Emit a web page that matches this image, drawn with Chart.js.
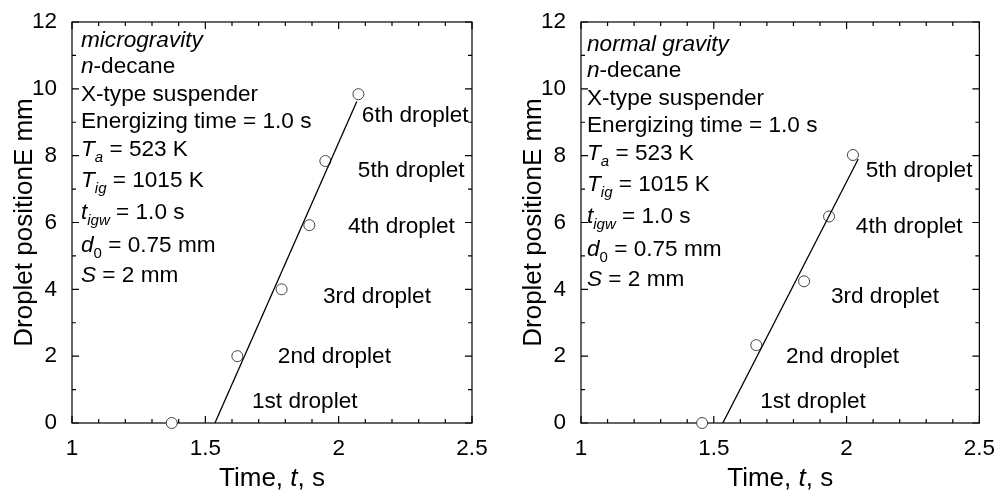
<!DOCTYPE html>
<html lang="en">
<head>
<meta charset="UTF-8">
<title>Droplet position vs time</title>
<style>
  body { margin: 0; background: #fff; }
  #wrap { display: flex; width: 999px; height: 492px; }
  .panel { position: relative; height: 492px; }
</style>
</head>
<body>
<div id="wrap">
  <div class="panel" style="width:500px"><canvas id="mg" width="500" height="492"></canvas></div>
  <div class="panel" style="width:499px"><canvas id="ng" width="499" height="492"></canvas></div>
</div>

<script src="https://cdn.jsdelivr.net/npm/chart.js@4.4.0/dist/chart.umd.min.js"></script>
<script>
  // microgravity: measured droplet positions and the fitted line
  const mgTime = [1.374, 1.62, 1.786, 1.89, 1.95, 2.074];
  const mgPos = [0, 2.0, 4.0, 5.92, 7.84, 9.84];
  const mgFitTime = [1.536, 2.068];
  const mgFitPos = [0, 9.62];

  // normal gravity
  const ngTime = [1.456, 1.66, 1.84, 1.934, 2.024];
  const ngPos = [0, 2.33, 4.24, 6.18, 8.02];
  const ngFitTime = [1.534, 2.044];
  const ngFitPos = [0, 7.9];

  // droplet labels (left edge / baseline, in data units)
  const dropletNames = ['1st droplet', '2nd droplet', '3rd droplet', '4th droplet', '5th droplet', '6th droplet'];
  const labelTime = [1.675, 1.772, 1.941, 2.035, 2.072, 2.087];
  const labelPos = [0.44, 1.79, 3.6, 5.68, 7.37, 9.02];

  const xMin = 1, xMax = 2.5, xStep = 0.5, xMinor = 0.1;
  const yMin = 0, yMax = 12, yStep = 2, yMinor = 1;

  const FONT = '"Liberation Sans", Arial, sans-serif';
  const TXT = 22.6, SUB = 15;

  const commonLines = [
    [{t: 'n', it: true}, {t: '-decane'}],
    [{t: 'X-type suspender'}],
    [{t: 'Energizing time = 1.0 s'}],
    [{t: 'T', it: true}, {t: 'a', it: true, sub: true}, {t: ' = 523 K'}],
    [{t: 'T', it: true}, {t: 'ig', it: true, sub: true}, {t: ' = 1015 K'}],
    [{t: 't', it: true}, {t: 'igw', it: true, sub: true}, {t: ' = 1.0 s'}],
    [{t: 'd', it: true}, {t: '0', sub: true}, {t: ' = 0.75 mm'}],
    [{t: 'S', it: true}, {t: ' = 2 mm'}]
  ];
  // baseline offsets below the top of the plot
  const lineOffsets = [24.7, 50.7, 78.7, 106.3, 134, 164.7, 197, 230, 259.7];

  function segFont(s) {
    return (s.it ? 'italic ' : '') + (s.size || (s.sub ? SUB : TXT)) + 'px ' + FONT;
  }

  function richWidth(ctx, segs) {
    let w = 0;
    segs.forEach(s => {
      ctx.font = segFont(s);
      w += ctx.measureText(s.t).width;
    });
    return w;
  }

  function drawRich(ctx, segs, x, y) {
    segs.forEach(s => {
      ctx.font = segFont(s);
      ctx.fillText(s.t, x, s.sub ? y + 6 : y);
      x += ctx.measureText(s.t).width;
    });
  }

  const decor = {
    id: 'decor',
    beforeDatasetsDraw(chart) {
      const ctx = chart.ctx, a = chart.chartArea;
      const xs = chart.scales.x, ys = chart.scales.y;
      ctx.save();
      ctx.strokeStyle = '#000';
      ctx.lineWidth = 1.2;
      ctx.strokeRect(a.left, a.top, a.right - a.left, a.bottom - a.top);
      ctx.beginPath();
      for (let i = 0; i <= Math.round((xMax - xMin) / xMinor); i++) {
        const v = xMin + i * xMinor;
        const px = xs.getPixelForValue(v);
        const len = (i % 5 === 0) ? 7 : 4;
        ctx.moveTo(px, a.bottom); ctx.lineTo(px, a.bottom - len);
        ctx.moveTo(px, a.top); ctx.lineTo(px, a.top + len);
      }
      for (let i = 0; i <= Math.round((yMax - yMin) / yMinor); i++) {
        const v = yMin + i * yMinor;
        const py = ys.getPixelForValue(v);
        const len = (i % 2 === 0) ? 7 : 4;
        ctx.moveTo(a.left, py); ctx.lineTo(a.left + len, py);
        ctx.moveTo(a.right, py); ctx.lineTo(a.right - len, py);
      }
      ctx.stroke();
      ctx.restore();
    },
    afterDraw(chart, args, opts) {
      const ctx = chart.ctx, a = chart.chartArea;
      const xs = chart.scales.x, ys = chart.scales.y;
      ctx.save();
      ctx.fillStyle = '#000';
      ctx.textBaseline = 'alphabetic';
      ctx.textAlign = 'left';

      // condition block
      const lines = [[{t: opts.condition, it: true}]].concat(commonLines);
      lines.forEach((segs, i) => {
        drawRich(ctx, segs, a.left + opts.textDx, a.top + lineOffsets[i] + opts.shift);
      });

      // droplet labels
      ctx.font = TXT + 'px ' + FONT;
      for (let i = 0; i < opts.labelCount; i++) {
        ctx.fillText(dropletNames[i], xs.getPixelForValue(labelTime[i]), ys.getPixelForValue(labelPos[i]));
      }

      // x title
      const xt = [{t: 'Time, ', size: 26}, {t: 't', it: true, size: 26}, {t: ', s', size: 26}];
      const cx = (a.left + a.right) / 2;
      drawRich(ctx, xt, cx - richWidth(ctx, xt) / 2, 486);

      // y title
      ctx.translate(a.left - 40, (a.top + a.bottom) / 2);
      ctx.rotate(-Math.PI / 2);
      ctx.font = '26px ' + FONT;
      ctx.textAlign = 'center';
      ctx.fillText('Droplet positionE mm', 0, 0);
      ctx.restore();
    }
  };

  function makeChart(id, time, pos, fitTime, fitPos, opts) {
    const pts = time.map((t, i) => ({x: t, y: pos[i]}));
    const fit = fitTime.map((t, i) => ({x: t, y: fitPos[i]}));
    return new Chart(document.getElementById(id), {
      type: 'scatter',
      data: {
        datasets: [
          {
            data: fit,
            showLine: true,
            borderColor: '#000',
            borderWidth: 1.3,
            pointRadius: 0
          },
          {
            data: pts,
            pointRadius: 5.5,
            pointBackgroundColor: '#fff',
            pointBorderColor: '#444',
            pointBorderWidth: 1,
            clip: false
          }
        ]
      },
      options: {
        responsive: false,
        animation: false,
        layout: {padding: {top: 22, right: opts.padRight, left: 0, bottom: 0}},
        plugins: {
          legend: {display: false},
          tooltip: {enabled: false},
          decor: opts
        },
        scales: {
          x: {
            type: 'linear', min: xMin, max: xMax,
            grid: {display: false}, border: {display: false},
            ticks: {stepSize: xStep, color: '#000', padding: 4, maxRotation: 0,
                    font: {family: FONT, size: 22.5},
                    callback: v => String(Math.round(v * 10) / 10)},
            afterFit: s => { s.height = 69; }
          },
          y: {
            min: yMin, max: yMax,
            grid: {display: false}, border: {display: false},
            ticks: {stepSize: yStep, color: '#000', padding: 7,
                    font: {family: FONT, size: 22.5}},
            afterFit: s => { s.width = opts.axisW; }
          }
        }
      },
      plugins: [decor]
    });
  }

  makeChart('mg', mgTime, mgPos, mgFitTime, mgFitPos,
    {condition: 'microgravity', textDx: 9, shift: 0, labelCount: 6, padRight: 28, axisW: 72});
  makeChart('ng', ngTime, ngPos, ngFitTime, ngFitPos,
    {condition: 'normal gravity', textDx: 6, shift: 4, labelCount: 5, padRight: 18, axisW: 81});
</script>
</body>
</html>
